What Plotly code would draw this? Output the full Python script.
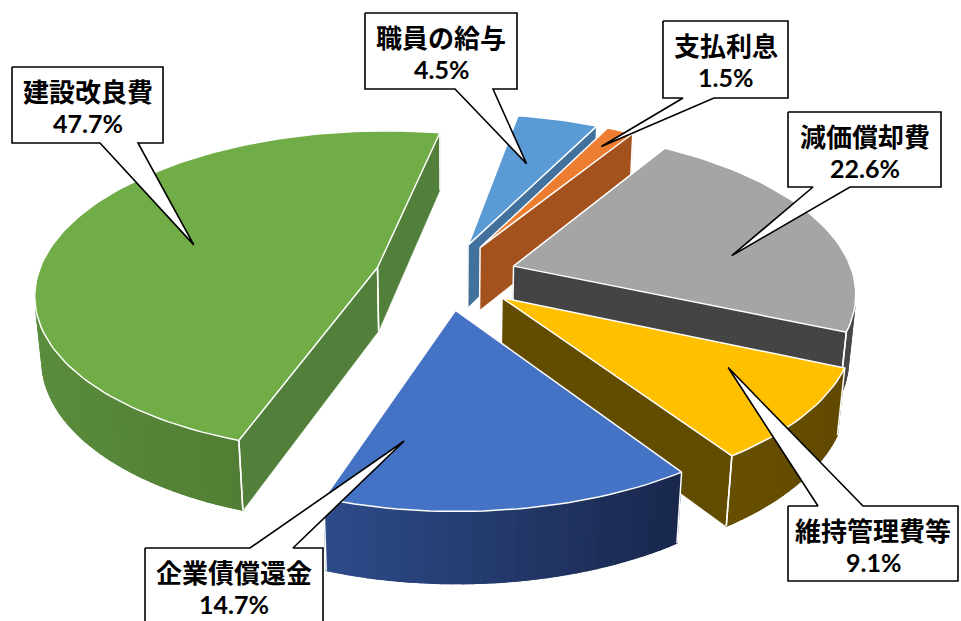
import numpy as np
import plotly.graph_objects as go

# ---- data -------------------------------------------------------------
categories = ["職員の給与", "支払利息", "減価償却費", "維持管理費等", "企業債償還金", "建設改良費"]
shares = [4.5, 1.5, 22.6, 9.1, 14.7, 47.7]

top_colors = ["#5B9BD5", "#ED7D31", "#A5A5A5", "#FFC000", "#4472C4", "#70AD47"]
cut_colors = ["#41719C", "#A3521E", "#444444", "#624C00", "#2F528F", "#52803A"]
# outer wall shading: colour on the right-facing side, colour on the left-facing side
wall_dark = [(50, 90, 130), (150, 75, 25), (70, 70, 70), (96, 73, 0), (14, 20, 44), (60, 95, 32)]
wall_light = [(80, 130, 180), (190, 100, 40), (120, 120, 120), (130, 100, 0), (62, 104, 186), (92, 142, 62)]

# ---- 3-D pie geometry ------------------------------------------------
FOCAL, DIST, TILT = 2006.0, 5.9, np.radians(28)
CX, CY = 446.0, 276.0
EXPLODE, THICK = 0.21, 0.215
START = np.radians(10.5)
cosT, sinT = np.cos(TILT), np.sin(TILT)
CAM = np.array([0.0, DIST * sinT, -DIST * cosT])


def project(X, Y, Z):
    X, Y, Z = np.asarray(X, float), np.asarray(Y, float), np.asarray(Z, float)
    yc = Y * cosT + Z * sinT
    zc = -Y * sinT + Z * cosT + DIST
    return CX + FOCAL * X / zc, CY - FOCAL * yc / zc


def faces_camera(normal, point):
    return float(np.dot(normal, CAM - np.asarray(point))) > 0


fracs = np.array(shares) / sum(shares)
bounds = START + np.concatenate([[0], np.cumsum(fracs)]) * 2 * np.pi

slices = []
for i, name in enumerate(categories):
    a0, a1 = bounds[i], bounds[i + 1]
    mid = 0.5 * (a0 + a1)
    ox, oz = EXPLODE * np.sin(mid), EXPLODE * np.cos(mid)
    depth = oz + 0.5 * np.cos(mid)
    slices.append(dict(i=i, a0=a0, a1=a1, mid=mid, ox=ox, oz=oz, depth=depth))

fig = go.Figure()


def poly(xs, ys, fill, line_color=None, line_width=0.0):
    xs = list(xs) + [xs[0]]
    ys = list(ys) + [ys[0]]
    fig.add_trace(go.Scatter(
        x=xs, y=ys, mode="lines", fill="toself", fillcolor=fill,
        line=dict(color=line_color or fill, width=line_width),
        hoverinfo="skip", showlegend=False))


def seg(p, q, color="white", width=1.5):
    fig.add_trace(go.Scatter(
        x=[p[0], q[0]], y=[p[1], q[1]], mode="lines",
        line=dict(color=color, width=width), hoverinfo="skip", showlegend=False))


def rgb(c):
    return "rgb(%d,%d,%d)" % tuple(int(round(v)) for v in c)


def wall_colour(i, phi):
    sh = (1 - np.sin(phi)) / 2
    return np.array(wall_dark[i]) + (np.array(wall_light[i]) - np.array(wall_dark[i])) * sh


for s in sorted(slices, key=lambda d: -d["depth"]):
    i, a0, a1, ox, oz = s["i"], s["a0"], s["a1"], s["ox"], s["oz"]
    apex_top = project(ox, 0, oz)
    apex_bot = project(ox, -THICK, oz)
    edges = []

    # radial cut faces
    for ang, sign in ((a0, -1), (a1, 1)):
        normal = sign * np.array([np.cos(ang), 0.0, -np.sin(ang)])
        if faces_camera(normal, (ox, 0, oz)):
            rt = project(ox + np.sin(ang), 0, oz + np.cos(ang))
            rb = project(ox + np.sin(ang), -THICK, oz + np.cos(ang))
            poly([apex_top[0], rt[0], rb[0], apex_bot[0]],
                 [apex_top[1], rt[1], rb[1], apex_bot[1]], cut_colors[i], line_width=0.5)
            edges.append((apex_top, apex_bot))
            edges.append((rt, rb))

    # outer curved wall: a base band, then shaded strips over it
    n = max(4, int(np.degrees(a1 - a0) / 1.5))
    phis = np.linspace(a0, a1, n + 1)
    vis = [faces_camera(np.array([np.sin(p), 0, np.cos(p)]),
                        (ox + np.sin(p), 0, oz + np.cos(p))) for p in phis]
    runs, cur = [], []
    for k in range(n + 1):
        if vis[k]:
            cur.append(phis[k])
        elif cur:
            runs.append(cur)
            cur = []
    if cur:
        runs.append(cur)
    for run in runs:
        if len(run) < 2:
            continue
        run = np.array(run)
        tx, ty = project(ox + np.sin(run), np.zeros_like(run), oz + np.cos(run))
        bx, by = project(ox + np.sin(run), np.full_like(run, -THICK), oz + np.cos(run))
        base = wall_colour(i, run.mean())
        poly(list(tx) + list(bx[::-1]), list(ty) + list(by[::-1]), rgb(base), line_width=0.6)
        for k in range(len(run) - 1):
            p, q = run[k], run[k + 1]
            col = rgb(wall_colour(i, 0.5 * (p + q)))
            poly([tx[k], tx[k + 1], bx[k + 1], bx[k]], [ty[k], ty[k + 1], by[k + 1], by[k]],
                 col, line_width=1.2)
    for idx in (0, n):
        if vis[idx]:
            p = phis[idx]
            edges.append((project(ox + np.sin(p), 0, oz + np.cos(p)),
                          project(ox + np.sin(p), -THICK, oz + np.cos(p))))

    for p, q in edges:
        seg(p, q)

    # top face
    rx, ry = project(ox + np.sin(phis), np.zeros_like(phis), oz + np.cos(phis))
    poly([apex_top[0]] + list(rx), [apex_top[1]] + list(ry), top_colors[i], "white", 1.5)

# ---- callout labels ---------------------------------------------------
# box (x0, x1, y0, y1), pointer side, pointer base (xa, xb), pointer tip (radius, position in slice)
callouts = {
    "建設改良費": ((12, 163, 67, 143), "bottom", (100, 138), (0.58, 0.5)),
    "職員の給与": ((365, 517, 13, 89), "bottom", (455, 493), (0.62, 0.5)),
    "支払利息": ((663, 788, 21, 98), "bottom", (683, 714), (0.85, 0.5)),
    "減価償却費": ((788, 941, 112, 187), "bottom", (813, 850), (0.66, 0.64)),
    "維持管理費等": ((788, 958, 506, 581), "top", (818, 863), (0.72, 0.3)),
    "企業債償還金": ((145, 323, 548, 650), "top", (250, 293), (0.7, 0.85)),
}

annotations = []
for s in slices:
    name = categories[s["i"]]
    (x0, x1, y0, y1), side, (xa, xb), (r, t) = callouts[name]
    phi = s["a0"] + t * (s["a1"] - s["a0"])
    tx, ty = project(s["ox"] + r * np.sin(phi), 0, s["oz"] + r * np.cos(phi))
    tx, ty = float(tx), float(ty)
    if side == "bottom":
        xs = [x0, x1, x1, xb, tx, xa, x0]
        ys = [y0, y0, y1, y1, ty, y1, y1]
    else:
        xs = [x0, xa, tx, xb, x1, x1, x0]
        ys = [y0, y0, ty, y0, y0, y1, y1]
    poly(xs, ys, "white", "black", 1.6)
    xc = 0.5 * (x0 + x1)
    annotations.append(dict(
        x=xc, y=y0 + 23, text="<b>%s</b>" % name, showarrow=False,
        xanchor="center", yanchor="middle",
        font=dict(family="Noto Sans CJK JP", size=26, color="black")))
    annotations.append(dict(
        x=xc, y=y0 + 56, text="<b>%.1f%%</b>" % shares[s["i"]], showarrow=False,
        xanchor="center", yanchor="middle",
        font=dict(family="Lato", size=25, color="black")))

fig.update_layout(
    width=961, height=621,
    margin=dict(l=0, r=0, t=0, b=0),
    paper_bgcolor="white", plot_bgcolor="white",
    showlegend=False,
    xaxis=dict(range=[0, 961], visible=False, fixedrange=True),
    yaxis=dict(range=[621, 0], visible=False, fixedrange=True),
    annotations=annotations,
)

fig.write_html("out.html")
